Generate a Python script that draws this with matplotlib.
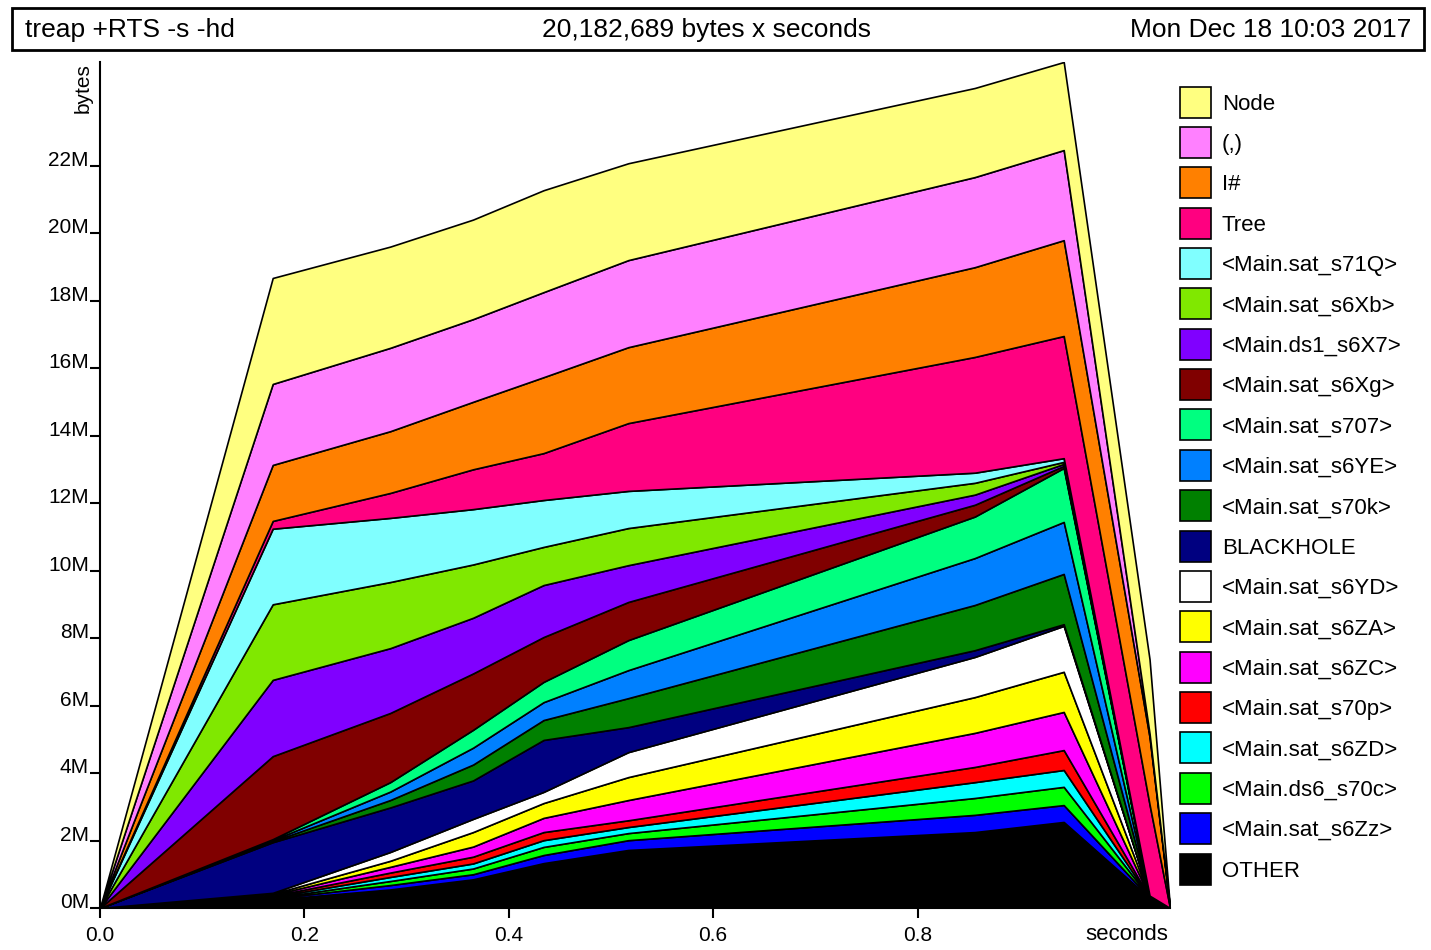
import matplotlib
matplotlib.use("Agg")
import matplotlib.pyplot as plt
from matplotlib.patches import Rectangle

plt.rcParams['font.family'] = ['Liberation Sans', 'DejaVu Sans']

# sample times (seconds)
times = [0.0, 0.169, 0.284, 0.365, 0.434, 0.517, 0.856, 0.943, 1.027, 1.047]

# heap bands in MB, bottom to top
other     = [0, 0.25, 0.55, 0.85, 1.33, 1.72, 2.25, 2.55, 0.30, 0]
sat_s6Zz  = [0, 0.03, 0.13, 0.15, 0.24, 0.29, 0.51, 0.50, 0.005, 0]
ds6_s70c  = [0, 0.02, 0.12, 0.17, 0.24, 0.21, 0.50, 0.54, 0.005, 0]
sat_s6ZD  = [0, 0.03, 0.12, 0.15, 0.20, 0.18, 0.47, 0.50, 0.005, 0]
sat_s70p  = [0, 0.03, 0.13, 0.20, 0.24, 0.20, 0.45, 0.59, 0.005, 0]
sat_s6ZC  = [0, 0.03, 0.17, 0.30, 0.42, 0.60, 1.01, 1.13, 0.005, 0]
sat_s6ZA  = [0, 0.03, 0.18, 0.43, 0.44, 0.68, 1.06, 1.19, 0.005, 0]
sat_s6YD  = [0, 0.03, 0.26, 0.39, 0.33, 0.74, 1.19, 1.36, 0.005, 0]
blackhole = [0, 1.50, 1.32, 1.14, 1.54, 0.74, 0.20, 0.05, 0.005, 0]
sat_s70k  = [0, 0.03, 0.22, 0.47, 0.59, 0.86, 1.34, 1.49, 0.005, 0]
sat_s6YE  = [0, 0.03, 0.25, 0.50, 0.53, 0.83, 1.39, 1.54, 0.005, 0]
sat_s707  = [0, 0.03, 0.28, 0.53, 0.60, 0.89, 1.23, 1.60, 0.005, 0]
sat_s6Xg  = [0, 2.46, 2.05, 1.67, 1.33, 1.13, 0.35, 0.06, 0.003, 0]
ds1_s6X7  = [0, 2.26, 1.92, 1.65, 1.54, 1.09, 0.30, 0.06, 0.003, 0]
sat_s6Xb  = [0, 2.24, 1.96, 1.58, 1.13, 1.10, 0.35, 0.06, 0.003, 0]
sat_s71Q  = [0, 2.24, 1.90, 1.64, 1.39, 1.10, 0.30, 0.11, 0.003, 0]
tree      = [0, 0.23, 0.74, 1.18, 1.39, 2.01, 3.43, 3.62, 2.70, 0]
i_hash    = [0, 1.66, 1.83, 2.00, 2.25, 2.25, 2.66, 2.84, 2.00, 0]
pair      = [0, 2.40, 2.47, 2.45, 2.52, 2.58, 2.67, 2.67, 0.10, 0]
node      = [0, 3.14, 3.00, 2.95, 3.02, 2.87, 2.64, 2.61, 2.20, 0]

bands = [other, sat_s6Zz, ds6_s70c, sat_s6ZD, sat_s70p, sat_s6ZC, sat_s6ZA,
         sat_s6YD, blackhole, sat_s70k, sat_s6YE, sat_s707, sat_s6Xg,
         ds1_s6X7, sat_s6Xb, sat_s71Q, tree, i_hash, pair, node]
labels = ['OTHER', '<Main.sat_s6Zz>', '<Main.ds6_s70c>', '<Main.sat_s6ZD>',
          '<Main.sat_s70p>', '<Main.sat_s6ZC>', '<Main.sat_s6ZA>',
          '<Main.sat_s6YD>', 'BLACKHOLE', '<Main.sat_s70k>', '<Main.sat_s6YE>',
          '<Main.sat_s707>', '<Main.sat_s6Xg>', '<Main.ds1_s6X7>',
          '<Main.sat_s6Xb>', '<Main.sat_s71Q>', 'Tree', 'I#', '(,)', 'Node']
colors = ['#000000', '#0000ff', '#00ff00', '#00ffff', '#ff0000', '#ff00ff',
          '#ffff00', '#ffffff', '#000080', '#008000', '#0080ff', '#00ff80',
          '#800000', '#8000ff', '#80e800', '#80ffff', '#ff0080', '#ff8000',
          '#ff80ff', '#ffff80']

W, H = 1431, 950
fig = plt.figure(figsize=(W / 100, H / 100), dpi=100)

ax = fig.add_axes([100 / W, 1 - 908 / H, 1070 / W, 846 / H])
ax.stackplot(times, *bands, colors=colors, edgecolor='black', linewidth=1.2)
ax.set_xlim(0, 1.047)
ax.set_ylim(0, 25.07)
ax.spines['top'].set_visible(False)
ax.spines['right'].set_visible(False)
ax.spines['left'].set_linewidth(1.5)
ax.spines['bottom'].set_linewidth(1.5)

ax.set_xticks([0.0, 0.2, 0.4, 0.6, 0.8])
ax.set_xticklabels(['0.0', '0.2', '0.4', '0.6', '0.8'])
yt = list(range(0, 23, 2))
ax.set_yticks(yt)
ax.set_yticklabels([f'{v}M' for v in yt])
ax.tick_params(axis='both', direction='out', length=7, width=1.5,
               labelsize=15, colors='black')
ax.tick_params(axis='x', pad=6)
ax.tick_params(axis='y', pad=1)
for lab in ax.get_yticklabels():
    lab.set_verticalalignment('baseline')

# overlay in pixel coordinates for header box, axis names and key
ov = fig.add_axes([0, 0, 1, 1], zorder=-1)
ov.set_xlim(0, W)
ov.set_ylim(H, 0)
ov.axis('off')

ov.add_patch(Rectangle((12, 8), 1412, 42, fill=False, edgecolor='black', linewidth=2))
ov.text(25, 30, 'treap +RTS -s -hd', fontsize=19, ha='left', va='center')
ov.text(706, 30, '20,182,689 bytes x seconds', fontsize=19, ha='center', va='center')
ov.text(1411, 30, 'Mon Dec 18 10:03 2017', fontsize=19, ha='right', va='center')

ov.text(83, 88, 'bytes', fontsize=15, rotation=90, ha='center', va='center')
ov.text(1127, 935, 'seconds', fontsize=16, ha='center', va='center')

step = 40.37
for i, (lab, col) in enumerate(zip(labels[::-1], colors[::-1])):
    yc = 102 + i * step
    ov.add_patch(Rectangle((1180, yc - 15.5), 31, 31, facecolor=col,
                           edgecolor='black', linewidth=1.2))
    ov.text(1222, yc + 2, lab, fontsize=16, ha='left', va='center')

fig.savefig('out.png', dpi=100)
